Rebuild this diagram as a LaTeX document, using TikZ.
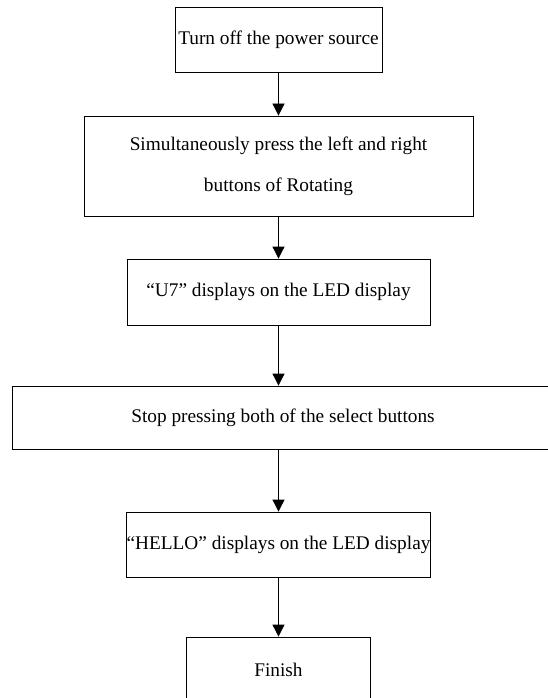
\documentclass[tikz,border=0pt]{standalone}
\usepackage{fontspec}
\setmainfont{Liberation Serif}
\usepackage{tikz}
\usetikzlibrary{positioning,arrows.meta}

\begin{document}
\begin{tikzpicture}[x=1pt,y=1pt,font=\fontsize{19.3pt}{41pt}\selectfont,
  box/.style={draw,line width=0.8pt,align=center,inner sep=0pt},
  ar/.style={-{Triangle[length=12pt,width=12pt]},line width=0.8pt}]
\useasboundingbox (0,0) rectangle (548,-698);
% steps, top to bottom
\node[box,minimum width=207,minimum height=65] (off) at (278.5,-39.5) {Turn off the power source};
\node[box,minimum width=389,minimum height=100] (press) at (278.5,-166) {Simultaneously press the left and right\\buttons of Rotating};
\node[box,minimum width=303,minimum height=66] (uled) at (278.5,-292) {“U7” displays on the LED display};
\node[box,minimum width=542,minimum height=63] (stop) at (283,-417.5) {Stop pressing both of the select buttons};
\node[box,minimum width=243,minimum height=65] (hled) at (278.5,-544.5) {“HELLO” displays on the LED display};
\node[box,minimum width=184,minimum height=66] (fin) at (278.5,-670) {Finish};
% connectors
\draw[ar] (off) -- (press);
\draw[ar] (press) -- (uled);
\draw[ar] (uled.south) -- (uled.south |- stop.north);
\draw[ar] (hled.north |- stop.south) -- (hled.north);
\draw[ar] (hled) -- (fin);
\end{tikzpicture}
\end{document}
